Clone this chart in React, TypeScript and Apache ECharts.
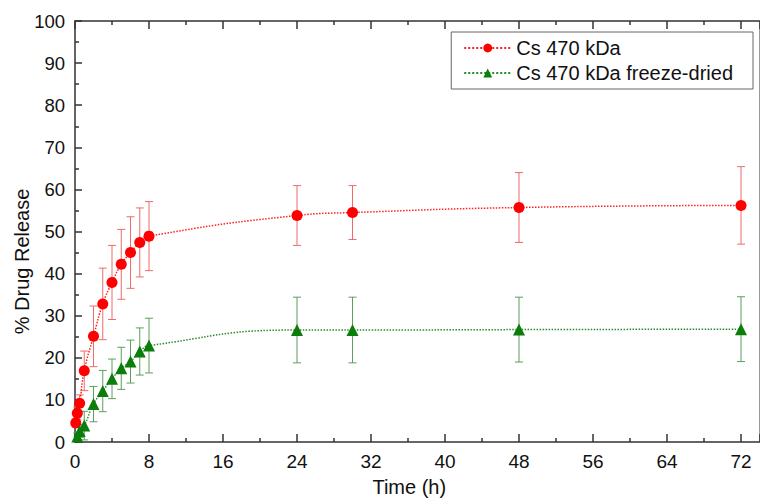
import React, { useEffect, useRef } from "react";
import * as echarts from "echarts";

const timesRed = [0.083, 0.25, 0.5, 1, 2, 3, 4, 5, 6, 7, 8, 24, 30, 48, 72];
const releaseRed = [4.5, 6.8, 9.2, 16.9, 25.1, 32.8, 37.9, 42.2, 45.0, 47.4, 48.9, 53.8, 54.5, 55.7, 56.2];
const errorRed = [1.0, 1.5, 2.0, 4.7, 7.2, 8.5, 8.8, 8.3, 8.5, 8.2, 8.2, 7.1, 6.4, 8.3, 9.2];

const timesGreen = [0.25, 0.5, 1, 2, 3, 4, 5, 6, 7, 8, 24, 30, 48, 72];
const releaseGreen = [1.3, 2.6, 3.9, 9.0, 12.1, 15.0, 17.5, 19.1, 21.5, 22.9, 26.6, 26.6, 26.7, 26.8];
const errorGreen = [0.8, 1.5, 3.4, 4.2, 4.9, 4.7, 5.0, 5.1, 5.6, 6.5, 7.8, 7.8, 7.7, 7.7];

const seriesNames = ["Cs 470 kDa", "Cs 470 kDa freeze-dried"];
const xTitle = "Time (h)";
const yTitle = "% Drug Release";

const FONT = "'Liberation Sans', Arial, sans-serif";
const NARROW = "'Liberation Sans Narrow', 'Liberation Sans', Arial, sans-serif";

function errorRenderer(color: string) {
  return (params: any, api: any) => {
    const x = api.value(0);
    const lo = api.value(1);
    const hi = api.value(2);
    const pHi = api.coord([x, hi]);
    const pLo = api.coord([x, lo]);
    const w = 4;
    const style = { stroke: color, lineWidth: 1 };
    return {
      type: "group",
      children: [
        { type: "line", shape: { x1: pHi[0], y1: pHi[1], x2: pLo[0], y2: pLo[1] }, style },
        { type: "line", shape: { x1: pHi[0] - w, y1: pHi[1], x2: pHi[0] + w, y2: pHi[1] }, style },
        { type: "line", shape: { x1: pLo[0] - w, y1: pLo[1], x2: pLo[0] + w, y2: pLo[1] }, style },
      ],
    };
  };
}

export default function App() {
  const ref = useRef<HTMLDivElement>(null);
  useEffect(() => {
    if (!ref.current) return;
    const chart = echarts.init(ref.current, null, { renderer: "svg" });
    const redLine = timesRed.map((t, i) => [t, releaseRed[i]]);
    const greenLine = timesGreen.map((t, i) => [t, releaseGreen[i]]);
    const redErr = timesRed.map((t, i) => [t, releaseRed[i] - errorRed[i], releaseRed[i] + errorRed[i]]);
    const greenErr = timesGreen.map((t, i) => [t, releaseGreen[i] - errorGreen[i], releaseGreen[i] + errorGreen[i]]);

    const axisLine = { show: true, onZero: false, lineStyle: { color: "#333", width: 1.5 } };
    chart.setOption({
      animation: false,
      backgroundColor: "#fff",
      grid: { left: 75, top: 21, right: 0.5, bottom: 57, containLabel: false, outerBoundsMode: "none" },
      legend: {
        data: seriesNames,
        orient: "vertical",
        right: 7,
        top: 32,
        backgroundColor: "#fff",
        borderColor: "#666",
        borderWidth: 1,
        padding: [6, 20, 6, 12],
        itemGap: 5,
        itemWidth: 47,
        itemHeight: 11,
        textStyle: { fontFamily: FONT, fontSize: 20, color: "#111" },
      },
      xAxis: [
        {
          type: "value",
          min: 0,
          max: 74,
          interval: 8,
          name: xTitle,
          nameLocation: "middle",
          nameGap: 35,
          nameMoveOverlap: false,
          nameTextStyle: { fontFamily: NARROW, fontSize: 20, color: "#111", padding: [0, 16, 0, 0] },
          axisLine,
          axisTick: { show: true, inside: true, length: 8, lineStyle: { color: "#333", width: 1.5 } },
          minorTick: { show: true, splitNumber: 2, length: 4, lineStyle: { color: "#333", width: 1.5 } },
          axisLabel: { fontFamily: NARROW, fontSize: 19, color: "#111", margin: 10, showMaxLabel: false },
          splitLine: { show: false },
        },
        {
          type: "value",
          position: "top",
          min: 0,
          max: 74,
          interval: 8,
          axisLine,
          axisTick: { show: true, inside: true, length: 8, lineStyle: { color: "#333", width: 1.5 } },
          minorTick: { show: true, splitNumber: 2, length: 4, lineStyle: { color: "#333", width: 1.5 } },
          axisLabel: { show: false },
          splitLine: { show: false },
        },
      ],
      yAxis: [
        {
          type: "value",
          min: 0,
          max: 100,
          interval: 10,
          name: yTitle,
          nameLocation: "middle",
          nameGap: 43,
          nameMoveOverlap: false,
          nameTextStyle: { fontFamily: FONT, fontSize: 20, color: "#111", padding: [0, 60, 0, 0] },
          axisLine,
          axisTick: { show: true, inside: true, length: 7, lineStyle: { color: "#333", width: 1.5 } },
          minorTick: { show: true, splitNumber: 2, length: 4, lineStyle: { color: "#333", width: 1.5 } },
          axisLabel: { fontFamily: FONT, fontSize: 18.5, color: "#111", margin: 10 },
          splitLine: { show: false },
        },
        {
          type: "value",
          position: "right",
          min: 0,
          max: 100,
          interval: 10,
          axisLine: { show: true, onZero: false, lineStyle: { color: "#999", width: 1 } },
          axisTick: { show: false },
          axisLabel: { show: false },
          splitLine: { show: false },
        },
      ],
      series: [
        {
          name: "Cs 470 kDa error",
          type: "custom",
          renderItem: errorRenderer("#f06a6a"),
          data: redErr,
          encode: { x: 0, y: [1, 2] },
          z: 1,
          silent: true,
        },
        {
          name: "Cs 470 kDa freeze-dried error",
          type: "custom",
          renderItem: errorRenderer("#5c9e5c"),
          data: greenErr,
          encode: { x: 0, y: [1, 2] },
          z: 1,
          silent: true,
        },
        {
          name: seriesNames[0],
          type: "line",
          data: redLine,
          smooth: 0.5,
          symbol: "circle",
          symbolSize: 11,
          itemStyle: { color: "#ff0000" },
          lineStyle: { color: "#ff2020", width: 1.5, type: "dotted" },
          z: 3,
        },
        {
          name: seriesNames[1],
          type: "line",
          data: greenLine,
          smooth: 0.5,
          symbol: "triangle",
          symbolSize: 12,
          itemStyle: { color: "#0a7d0a" },
          lineStyle: { color: "#2a8a2a", width: 1.5, type: "dotted" },
          z: 3,
        },
      ],
    });
    return () => chart.dispose();
  }, []);
  return <div ref={ref} style={{ position: "absolute", left: 0, top: 0, width: 760, height: 499 }} />;
}
